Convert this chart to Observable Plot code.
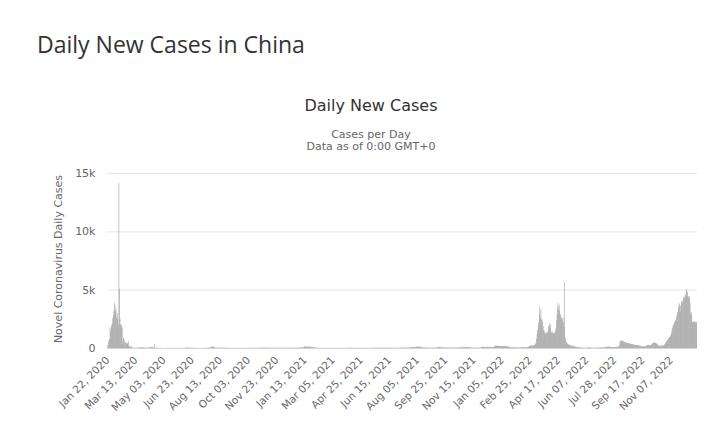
<!DOCTYPE html>
<html>
<head>
<meta charset="utf-8">
<script src="https://cdn.jsdelivr.net/npm/d3@7"></script>
<script src="https://cdn.jsdelivr.net/npm/@observablehq/plot@0.6"></script>
<style>
  html, body { margin: 0; padding: 0; background: #fff; }
  #wrap { position: relative; width: 720px; height: 431px; overflow: hidden; background: #fff; }
  #header { position: relative; width: 720px; height: 160px; }
  .t { position: absolute; white-space: nowrap; }
  #mainTitle { left: 37px; top: 33px; font-family: "Open Sans", sans-serif; font-size: 23px; line-height: 23px; color: #333; }
  #chartTitle { left: 171px; width: 400px; text-align: center; top: 98px; font-family: "DejaVu Sans", sans-serif; font-size: 16px; line-height: 16px; color: #333; }
  #subTitle { left: 171px; width: 400px; text-align: center; top: 129px; font-family: "DejaVu Sans", sans-serif; font-size: 11px; line-height: 12px; color: #666; }
  #yTitle { left: -41px; width: 200px; text-align: center; top: 253px; height: 12px; font-family: "DejaVu Sans", sans-serif; font-size: 11px; line-height: 12px; color: #666; transform: rotate(-90deg); transform-origin: 50% 50%; }
  #chart svg { display: block; }
</style>
</head>
<body>
<div id="wrap">
  <div id="header">
    <div class="t" id="mainTitle">Daily New Cases in China</div>
    <div class="t" id="chartTitle">Daily New Cases</div>
    <div class="t" id="subTitle">Cases per Day<br>Data as of 0:00 GMT+0</div>
  </div>
  <div id="chart"></div>
  <div class="t" id="yTitle">Novel Coronavirus Daily Cases</div>
</div>
<script>
// First day of the series
const startDate = "2020-01-22";

// Daily new cases, Jan 22 2020 – Dec 31 2020
const cases2020 = [
  // Jan 22–31
  0, 259, 457, 688, 769, 1771, 1459, 1737, 1982, 2102,
  // Feb
  2590, 2829, 3235, 3884, 3694, 3143, 3385, 2652, 2973, 2467,
  2015, 14108, 5090, 2641, 2008, 2048, 1888, 1749, 391, 889,
  823, 648, 214, 508, 406, 433, 327, 427, 573,
  // Mar
  202, 125, 119, 139, 143, 99, 44, 40, 19, 24,
  15, 8, 11, 20, 16, 21, 13, 34, 39, 41,
  46, 45, 39, 78, 47, 67, 55, 54, 45, 31, 36,
  // Apr
  35, 31, 19, 30, 39, 32, 62, 63, 42, 46,
  99, 108, 89, 46, 46, 26, 351, 16, 12, 11,
  30, 10, 11, 6, 12, 11, 6, 22, 4, 3,
  // May
  2, 1, 2, 1, 1, 2, 4, 1, 14, 1,
  17, 7, 3, 4, 8, 5, 7, 6, 6, 4,
  12, 2, 3, 11, 7, 1, 2, 5, 2, 4, 2,
  // Jun
  7, 6, 5, 6, 3, 5, 6, 3, 3, 11,
  2, 11, 57, 49, 40, 44, 28, 25, 32, 26,
  22, 18, 22, 11, 19, 17, 21, 12, 7, 19,
  // Jul
  3, 5, 4, 8, 7, 8, 5, 7, 7, 8,
  7, 8, 7, 8, 11, 22, 16, 22, 22, 13,
  14, 14, 22, 34, 46, 57, 68, 101, 105, 127, 112,
  // Aug
  127, 98, 49, 36, 27, 37, 31, 23, 19, 44,
  31, 36, 26, 24, 27, 33, 26, 18, 22, 22,
  15, 20, 21, 15, 17, 15, 9, 14, 9, 21, 10,
  // Sep
  8, 11, 5, 12, 11, 10, 6, 10, 7, 11,
  6, 13, 8, 14, 6, 10, 32, 14, 10, 14,
  12, 7, 9, 10, 12, 14, 21, 12, 10, 6,
  // Oct
  19, 11, 15, 20, 15, 11, 8, 22, 15, 21,
  23, 13, 21, 13, 13, 13, 13, 20, 13, 22,
  24, 20, 13, 20, 34, 28, 42, 34, 23, 24, 15,
  // Nov
  24, 35, 22, 24, 28, 33, 25, 33, 22, 22,
  22, 30, 14, 16, 23, 18, 17, 15, 16, 23,
  26, 22, 25, 20, 22, 18, 20, 17, 16, 17,
  // Dec
  15, 24, 14, 17, 20, 18, 15, 15, 17, 18,
  26, 24, 23, 23, 24, 26, 27, 27, 18, 23,
  19, 23, 19, 23, 27, 20, 24, 25, 24, 30, 27
];

// Daily new cases, 2021
const cases2021 = [
  // Jan
  25, 17, 33, 33, 32, 63, 53, 37, 46, 103,
  42, 55, 138, 144, 115, 130, 109, 118, 103, 103,
  144, 103, 107, 124, 82, 75, 55, 54, 78, 92, 42,
  // Feb
  42, 30, 21, 13, 17, 11, 11, 14, 14, 16,
  14, 14, 9, 8, 10, 10, 11, 10, 7, 8,
  7, 6, 10, 7, 10, 10, 6, 6,
  // Mar
  9, 9, 10, 11, 6, 9, 12, 13, 8, 10,
  7, 10, 8, 10, 10, 11, 8, 14, 9, 7,
  9, 11, 9, 13, 7, 10, 9, 11, 17, 18, 10,
  // Apr
  20, 15, 17, 32, 25, 19, 12, 13, 20, 15,
  11, 10, 13, 12, 16, 17, 12, 11, 23, 8,
  15, 16, 18, 12, 12, 20, 11, 15, 18, 13,
  // May
  12, 11, 15, 14, 11, 13, 16, 11, 13, 16,
  9, 11, 16, 24, 18, 14, 16, 18, 15, 21,
  21, 28, 17, 23, 27, 22, 18, 26, 24, 33, 23,
  // Jun
  27, 24, 24, 28, 31, 23, 29, 30, 18, 35,
  27, 23, 20, 21, 28, 28, 20, 22, 31, 25,
  23, 31, 27, 17, 21, 21, 24, 20, 19, 16,
  // Jul
  13, 22, 20, 19, 23, 37, 24, 31, 31, 44,
  41, 24, 46, 33, 28, 35, 26, 30, 29, 33,
  37, 61, 38, 51, 75, 76, 76, 96, 78, 87, 91,
  // Aug
  98, 75, 96, 111, 124, 124, 143, 125, 108, 104,
  111, 85, 86, 66, 53, 40, 46, 46, 40, 35,
  26, 36, 36, 32, 25, 26, 21, 25, 21, 16, 31,
  // Sep
  26, 33, 29, 21, 28, 28, 21, 33, 36, 68,
  64, 92, 69, 75, 100, 86, 73, 69, 48, 48,
  41, 42, 39, 33, 38, 38, 34, 39, 29, 28,
  // Oct
  27, 26, 31, 30, 27, 25, 28, 29, 30, 24,
  22, 28, 29, 36, 27, 32, 39, 42, 47, 48,
  57, 52, 57, 61, 51, 67, 83, 79, 85, 83, 93,
  // Nov
  72, 93, 109, 87, 74, 62, 59, 60, 59, 52,
  50, 33, 38, 34, 36, 22, 27, 23, 31, 20,
  23, 25, 25, 33, 23, 23, 23, 27, 89, 113,
  // Dec
  98, 113, 91, 95, 81, 103, 63, 88, 87, 103,
  100, 85, 116, 93, 80, 72, 64, 90, 78, 95,
  85, 100, 140, 206, 158, 200, 209, 182, 162, 209, 175
];

// Daily new cases, Jan 1 2022 – Dec 24 2022
const cases2022 = [
  // Jan
  175, 191, 158, 160, 162, 157, 165, 159, 168, 190,
  149, 165, 165, 141, 165, 119, 127, 97, 63, 56,
  63, 73, 48, 56, 58, 43, 60, 62, 52, 55, 46,
  // Feb
  36, 39, 34, 28, 45, 45, 42, 45, 46, 51,
  57, 64, 66, 65, 54, 56, 49, 56, 60, 82,
  90, 100, 125, 160, 180, 190, 230, 250,
  // Mar
  180, 200, 215, 235, 260, 300, 330, 450, 800, 1200,
  1550, 1900, 2200, 2900, 3550, 2600, 3300, 2400, 2500, 2300,
  1900, 1500, 1300, 1450, 1200, 1350, 1250, 1400, 1300, 1500, 1900,
  // Apr
  2100, 1800, 2050, 1600, 1350, 1250, 1400, 1300, 1200, 1350,
  1250, 1400, 1700, 2300, 2900, 3500, 3850, 3300, 3700, 3200,
  2900, 2700, 2500, 2650, 2400, 2600, 2200, 1800, 5660, 900,
  // May
  650, 500, 420, 380, 330, 300, 280, 260, 250, 230,
  210, 190, 180, 170, 160, 140, 130, 120, 110, 100,
  95, 90, 85, 75, 70, 60, 55, 50, 45, 40, 35,
  // Jun
  30, 25, 20, 18, 15, 12, 15, 20, 35, 45,
  60, 65, 50, 45, 40, 30, 35, 30, 25, 22,
  20, 18, 25, 20, 18, 22, 25, 30, 35, 40,
  // Jul
  35, 40, 45, 50, 48, 52, 55, 50, 45, 48,
  55, 70, 90, 105, 110, 115, 120, 110, 100, 105,
  95, 90, 85, 80, 75, 70, 70, 80, 85, 90, 100,
  // Aug
  100, 95, 110, 130, 140, 200, 550, 600, 650, 620,
  640, 600, 580, 560, 520, 480, 500, 470, 450, 430,
  420, 440, 410, 400, 380, 350, 330, 360, 340, 320, 300,
  // Sep
  290, 280, 300, 270, 260, 250, 240, 260, 230, 220,
  210, 200, 190, 180, 150, 140, 130, 150, 140, 120,
  130, 140, 160, 200, 230, 250, 260, 240, 250, 230,
  // Oct
  220, 250, 300, 350, 400, 450, 480, 460, 430, 450,
  420, 400, 380, 300, 250, 220, 200, 190, 180, 200,
  210, 190, 200, 220, 250, 280, 320, 380, 500, 550, 620,
  // Nov
  700, 750, 800, 900, 950, 1000, 1100, 1300, 1500, 1700,
  1900, 2000, 2100, 2250, 2300, 2400, 2600, 2800, 3000, 3100,
  3500, 3850, 3700, 3100, 3600, 3850, 4000, 3950, 4100, 4300,
  // Dec 1–24
  4400, 4300, 4450, 4600, 4900, 5030, 4800, 4400, 4450, 4300,
  4400, 3900, 3000, 3100, 2800, 2250, 2200, 2250, 2300, 2200,
  2250, 2200, 2250, 2200
];

// X-axis tick labels (every 51 days)
const tickLabels = [
  "Jan 22, 2020", "Mar 13, 2020", "May 03, 2020", "Jun 23, 2020", "Aug 13, 2020",
  "Oct 03, 2020", "Nov 23, 2020", "Jan 13, 2021", "Mar 05, 2021", "Apr 25, 2021",
  "Jun 15, 2021", "Aug 05, 2021", "Sep 25, 2021", "Nov 15, 2021", "Jan 05, 2022",
  "Feb 25, 2022", "Apr 17, 2022", "Jun 07, 2022", "Jul 28, 2022", "Sep 17, 2022",
  "Nov 07, 2022"
];

// Y-axis ticks
const yTicks = [0, 5000, 10000, 15000];
const yTickLabels = ["0", "5k", "10k", "15k"];

const DAY = 864e5;
const t0 = new Date(startDate + "T00:00:00Z").getTime();
const allCases = [...cases2020, ...cases2021, ...cases2022];
const data = allCases.map((v, i) => ({
  start: new Date(t0 + i * DAY),
  end: new Date(t0 + (i + 1) * DAY),
  cases: v
}));
const parseTick = d3.utcParse("%b %d, %Y");
const tickDates = tickLabels.map(s => new Date(parseTick(s).getTime() + DAY / 2));

const chart = Plot.plot({
  width: 720,
  height: 271,
  marginTop: 13,
  marginBottom: 83,
  marginLeft: 107,
  marginRight: 23,
  style: { fontFamily: "DejaVu Sans, sans-serif", fontSize: "11px", color: "#666", background: "white", overflow: "visible" },
  x: { type: "utc", domain: [new Date(t0), new Date(t0 + allCases.length * DAY)] },
  y: { domain: [0, 15000] },
  marks: [
    Plot.gridY(yTicks.slice(1), { stroke: "#e6e6e6", strokeOpacity: 1 }),
    Plot.rect(data, { x1: "start", x2: "end", y1: 0, y2: "cases", fill: "#999" }),
    Plot.ruleY([0], { stroke: "#ccd6eb" }),
    Plot.axisY({ ticks: yTicks, tickFormat: (d) => yTickLabels[yTicks.indexOf(d)], tickSize: 0, tickPadding: 12, label: null, fill: "#666" }),
    Plot.axisX({ ticks: tickDates, tickFormat: (d, i) => tickLabels[i], tickRotate: -45, tickSize: 0, tickPadding: 10, fontSize: 10.5, label: null, fill: "#666" })
  ]
});
document.getElementById("chart").appendChild(chart);
</script>
</body>
</html>
